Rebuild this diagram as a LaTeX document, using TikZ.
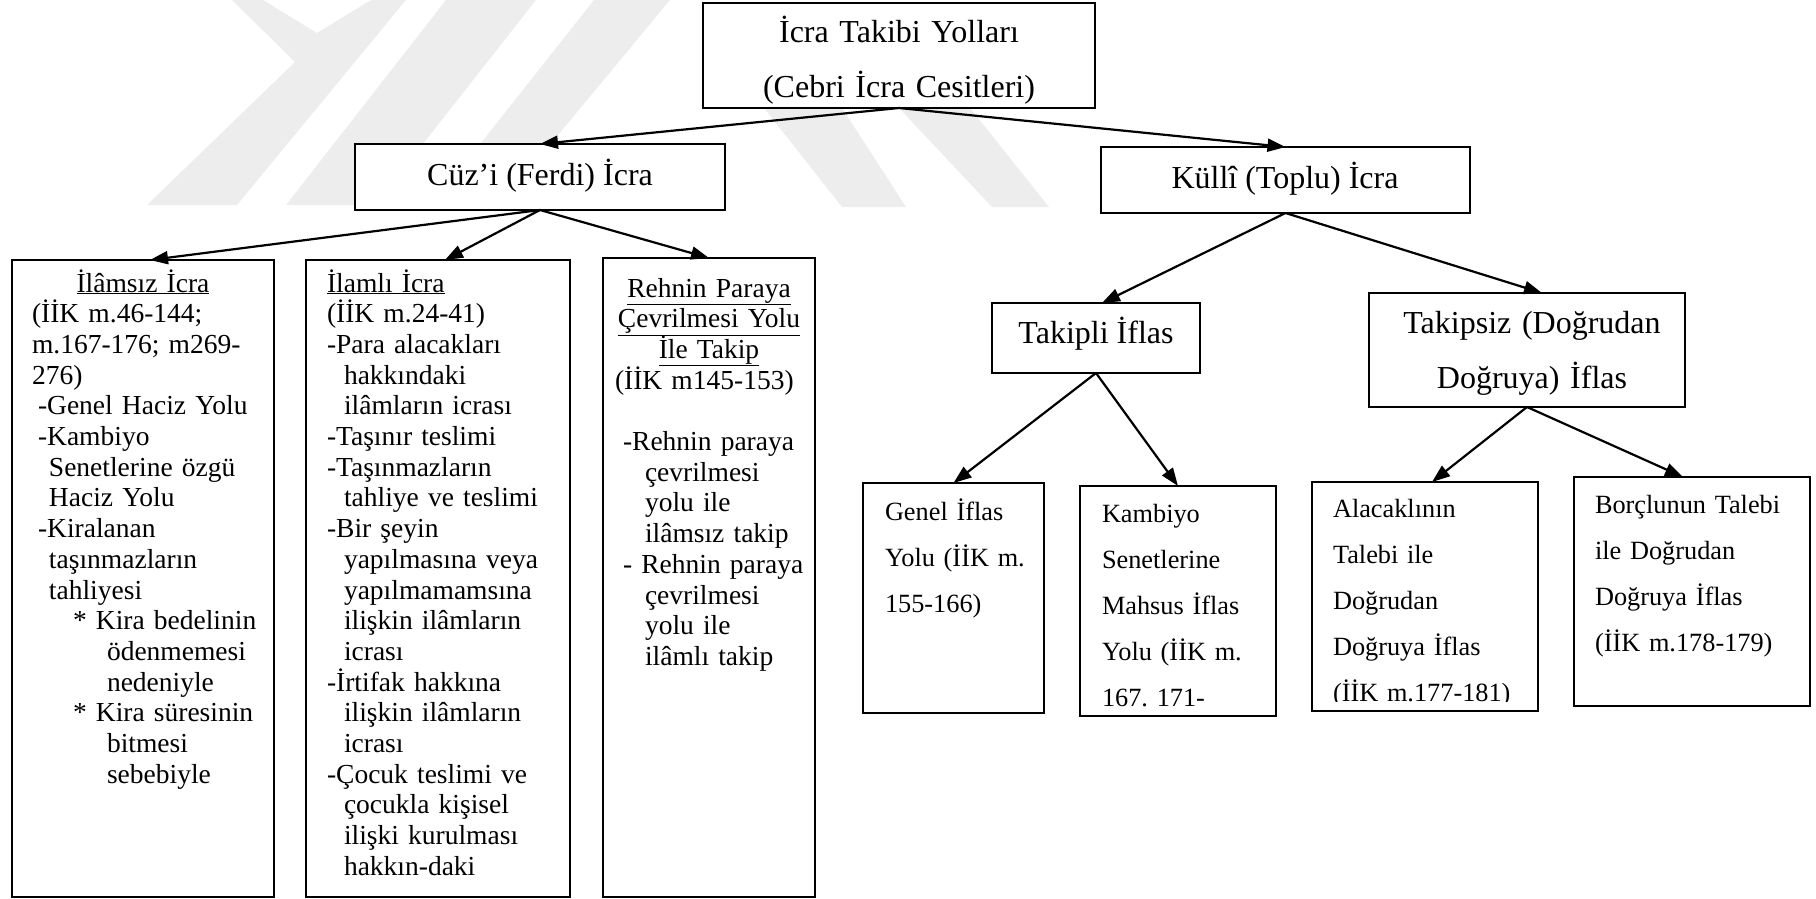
\documentclass[tikz,border=0pt]{standalone}
\usepackage{fontspec}
\setmainfont{Liberation Serif}
\usetikzlibrary{positioning,fit,calc,arrows.meta}
\frenchspacing
\newcommand{\govde}{\fontsize{27.5}{30.7}\selectfont}
\newcommand{\altgovde}{\fontsize{26.3}{46}\selectfont}
\newcommand{\baslikfont}{\fontsize{32}{55}\selectfont}
\tikzset{kutu/.style={draw, line width=2pt, fill=white, inner sep=0pt, outer sep=0pt}}
\tikzset{govde/.style={inner sep=0pt, outer sep=0pt, anchor=base west, font=\govde}}
\tikzset{altyazi/.style={govde, font=\altgovde}}
\tikzset{baslik/.style={inner sep=0pt, outer sep=0pt, anchor=base, font=\baslikfont}}
\tikzset{ok/.style={draw, line width=2.2pt, -{Triangle[length=18pt, width=13pt]}}}
\tikzset{iz/.style={fill=black!7, draw=none}}

\begin{document}
\begin{tikzpicture}[x=1pt, y=-1pt]
\useasboundingbox (0,0) rectangle (1816,899);
% silik arka plan
\fill[iz] (232,0) -- (263,0) -- (317,33) -- (371,0) -- (406,0) -- (237,205) -- (147,205) -- (295,62) -- cycle;
\fill[iz] (446,0) -- (536,0) -- (375,205) -- (286,205) -- cycle;
\fill[iz] (594,0) -- (670,0) -- (500,205) -- (432,205) -- cycle;
\fill[iz] (764,108) -- (842,108) -- (906,207) -- (842,207) -- cycle;
\fill[iz] (899,108) -- (970,108) -- (1049,207) -- (992,207) -- cycle;

% kutular
\node[kutu, fit={(703,3) (1095,108)}] (ust) {};
\node[kutu, fit={(355,144) (725,210)}] (cuzi) {};
\node[kutu, fit={(1101,147) (1470,213)}] (kulli) {};
\node[kutu, fit={(12,260) (274,897)}] (ilamsiz) {};
\node[kutu, fit={(306,260) (570,897)}] (ilamli) {};
\node[kutu, fit={(603,258) (815,897)}] (rehin) {};
\node[kutu, fit={(992,303) (1200,373)}] (takipli) {};
\node[kutu, fit={(1369,293) (1685,407)}] (takipsiz) {};
\node[kutu, fit={(863,483) (1044,713)}] (genel) {};
\node[kutu, fit={(1080,486) (1276,716)}] (kambiyo) {};
\node[kutu, fit={(1312,482) (1538,711)}] (alacakli) {};
\node[kutu, fit={(1574,477) (1810,706)}] (borclu) {};

% basliklar
\begin{scope}
  \clip ([xshift=1pt,yshift=-1pt]ust.north west) rectangle ([xshift=-1pt,yshift=3pt]ust.south east);
  \node[baslik, text width=390pt, align=center] (ust-y) at (899,43) {İcra Takibi Yolları\\(Cebri İcra Cesitleri)};
\end{scope}
\node[baslik] (cuzi-y) at (540,185) {Cüz’i (Ferdi) İcra};
\node[baslik] (kulli-y) at (1285,188) {Küllî (Toplu) İcra};
\node[baslik] (takipli-y) at (1096,343) {Takipli İflas};
\node[baslik, text width=310pt, align=center] (takipsiz-y) at (1532,333) {Takipsiz (Doğrudan\\Doğruya) İflas};

% sol kutularin metinleri
\node[govde, text width=238pt] (ilamsiz-y) at (32,292) {\makebox[222pt][c]{\underline{İlâmsız İcra}}\\
  (İİK m.46-144;\\
  m.167-176; m269-\\
  276)\\
  \hspace*{6pt}-Genel Haciz Yolu\\
  \hspace*{6pt}-Kambiyo\\
  \hspace*{17pt}Senetlerine özgü\\
  \hspace*{17pt}Haciz Yolu\\
  \hspace*{6pt}-Kiralanan\\
  \hspace*{17pt}taşınmazların\\
  \hspace*{17pt}tahliyesi\\
  \hspace*{41pt}* Kira bedelinin\\
  \hspace*{75pt}ödenmemesi\\
  \hspace*{75pt}nedeniyle\\
  \hspace*{41pt}* Kira süresinin\\
  \hspace*{75pt}bitmesi\\
  \hspace*{75pt}sebebiyle};
\node[govde, text width=238pt, align=left] (ilamli-y) at (327,292) {\underline{İlamlı İcra}\\
  (İİK m.24-41)\\
  -Para alacakları\\
  \hspace*{17pt}hakkındaki\\
  \hspace*{17pt}ilâmların icrası\\
  -Taşınır teslimi\\
  -Taşınmazların\\
  \hspace*{17pt}tahliye ve teslimi\\
  -Bir şeyin\\
  \hspace*{17pt}yapılmasına veya\\
  \hspace*{17pt}yapılmamamsına\\
  \hspace*{17pt}ilişkin ilâmların\\
  \hspace*{17pt}icrası\\
  -İrtifak hakkına\\
  \hspace*{17pt}ilişkin ilâmların\\
  \hspace*{17pt}icrası\\
  -Çocuk teslimi ve\\
  \hspace*{17pt}çocukla kişisel\\
  \hspace*{17pt}ilişki kurulması\\
  \hspace*{17pt}hakkın-daki};
\node[govde, text width=200pt] (rehin-y) at (615,297) {\makebox[188pt][c]{\underline{Rehnin Paraya}}\\
  \makebox[188pt][c]{\underline{Çevrilmesi Yolu}}\\
  \makebox[188pt][c]{\underline{İle Takip}}\\
  (İİK m145-153)\\
  \mbox{}\\
  \hspace*{8pt}-Rehnin paraya\\
  \hspace*{30pt}çevrilmesi\\
  \hspace*{30pt}yolu ile\\
  \hspace*{30pt}ilâmsız takip\\
  \hspace*{8pt}- Rehnin paraya\\
  \hspace*{30pt}çevrilmesi\\
  \hspace*{30pt}yolu ile\\
  \hspace*{30pt}ilâmlı takip};

% sag alt kutularin metinleri
\node[altyazi, text width=150pt, align=left] (genel-y) at (885,520) {Genel İflas\\Yolu (İİK m.\\155-166)};
\begin{scope}
  \clip (kambiyo.north west) rectangle ([yshift=4pt]kambiyo.south east);
  \node[altyazi, text width=165pt, align=left] (kambiyo-y) at (1102,522) {Kambiyo\\Senetlerine\\Mahsus İflas\\Yolu (İİK m.\\167. 171-};
\end{scope}
\begin{scope}
  \clip (alacakli.north west) rectangle ([yshift=10pt]alacakli.south east);
  \node[altyazi, text width=195pt, align=left] (alacakli-y) at (1333,517) {Alacaklının\\Talebi ile\\Doğrudan\\Doğruya İflas\\(İİK m.177-181)};
\end{scope}
\node[altyazi, text width=205pt, align=left] (borclu-y) at (1595,513) {Borçlunun Talebi\\ile Doğrudan\\Doğruya İflas\\(İİK m.178-179)};

% oklar
\draw[ok] (ust.south) -- (cuzi.north);
\draw[ok] (ust.south) -- (kulli.north);
\draw[ok] (cuzi.south) -- ([xshift=7pt]ilamsiz.north);
\draw[ok] (cuzi.south) -- ([xshift=7pt]ilamli.north);
\draw[ok] (cuzi.south) -- (rehin.north);
\draw[ok] (kulli.south) -- ([xshift=6pt]takipli.north);
\draw[ok] (kulli.south) -- ([xshift=15pt]takipsiz.north);
\draw[ok] (takipli.south) -- (genel.north);
\draw[ok] (takipli.south) -- (kambiyo.north);
\draw[ok] (takipsiz.south) -- ([xshift=7pt]alacakli.north);
\draw[ok] (takipsiz.south) -- ([xshift=-9pt]borclu.north);
\end{tikzpicture}
\end{document}
